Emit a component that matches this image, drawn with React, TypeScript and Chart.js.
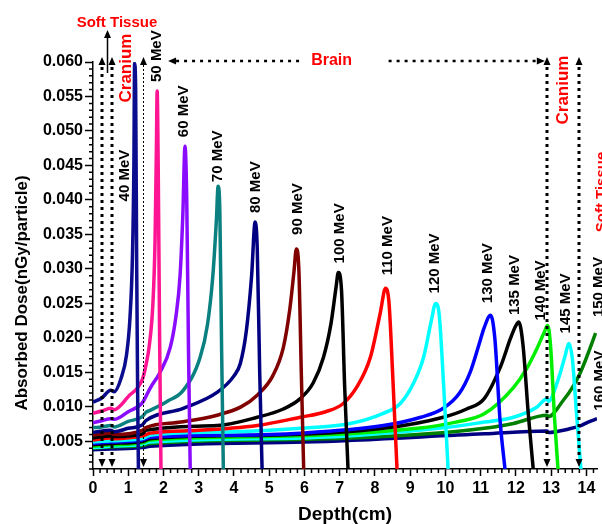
import React, { useEffect, useRef } from "react";
import { Chart, registerables } from "chart.js";

Chart.register(...registerables);

// ---- data (depth in cm, dose in nGy/particle) ----
const energyLabels = ["40 MeV", "50 MeV", "60 MeV", "70 MeV", "80 MeV", "90 MeV", "100 MeV", "110 MeV", "120 MeV", "130 MeV", "135 MeV", "140 MeV", "145 MeV", "150 MeV", "160 MeV"];

const depth40 = [0, 0.25, 0.5, 0.6, 0.8, 0.95, 1.05, 1.12, 1.16, 1.18, 1.21, 1.24, 1.27, 1.29];
const dose40 = [0.0107, 0.0113, 0.0124, 0.0122, 0.0142, 0.0175, 0.0230, 0.0320, 0.0450, 0.0598, 0.0560, 0.0300, 0.0100, 0.0005];

const depth50 = [0, 0.25, 0.5, 0.6, 1.0, 1.4, 1.5, 1.6, 1.7, 1.76, 1.8, 1.82, 1.85, 1.89, 1.93];
const dose50 = [0.0091, 0.0094, 0.0098, 0.0096, 0.0115, 0.0140, 0.0160, 0.0190, 0.0250, 0.0340, 0.0480, 0.0558, 0.0450, 0.0200, 0.0005];

const depth60 = [0, 0.25, 0.5, 0.6, 1.0, 1.4, 1.5, 1.62, 1.9, 2.19, 2.35, 2.47, 2.55, 2.61, 2.66, 2.71, 2.76];
const dose60 = [0.0077, 0.0080, 0.0083, 0.0082, 0.0093, 0.0106, 0.0115, 0.0127, 0.0150, 0.0186, 0.0230, 0.0290, 0.0380, 0.0478, 0.0400, 0.0180, 0.0005];

const depth70 = [0, 0.25, 0.5, 0.6, 1.0, 1.4, 1.5, 1.62, 2.1, 2.56, 3.04, 3.25, 3.4, 3.5, 3.55, 3.6, 3.65, 3.7];
const dose70 = [0.0070, 0.0071, 0.0073, 0.0071, 0.0079, 0.0086, 0.0092, 0.0095, 0.0108, 0.0124, 0.0172, 0.0220, 0.0290, 0.0370, 0.0420, 0.0380, 0.0180, 0.0005];

const depth80 = [0, 0.5, 0.6, 1.0, 1.4, 1.5, 2.56, 3.52, 4.0, 4.18, 4.35, 4.5, 4.6, 4.66, 4.73, 4.8];
const dose80 = [0.0063, 0.0066, 0.0064, 0.0069, 0.0074, 0.0080, 0.0098, 0.0121, 0.0145, 0.0163, 0.0210, 0.0290, 0.0368, 0.0330, 0.0150, 0.0005];

const depth90 = [0, 0.5, 0.6, 1.4, 1.5, 2.5, 3.52, 4.2, 4.66, 5.1, 5.4, 5.58, 5.7, 5.77, 5.84, 5.91, 5.98];
const dose90 = [0.0059, 0.0062, 0.0060, 0.0066, 0.0070, 0.0078, 0.0088, 0.0100, 0.0117, 0.0145, 0.0186, 0.0240, 0.0295, 0.0329, 0.0300, 0.0150, 0.0005];

const depth100 = [0, 0.5, 0.6, 1.4, 1.5, 3.52, 4.66, 5.4, 5.88, 6.25, 6.54, 6.75, 6.9, 6.96, 7.05, 7.14, 7.24];
const dose100 = [0.0055, 0.0058, 0.0057, 0.0061, 0.0066, 0.0073, 0.0085, 0.0097, 0.0112, 0.0135, 0.0172, 0.0220, 0.0275, 0.0295, 0.0270, 0.0130, 0.0005];

const depth110 = [0, 0.5, 0.6, 1.4, 1.62, 3.0, 4.66, 5.88, 6.6, 7.1, 7.5, 7.87, 8.15, 8.3, 8.4, 8.5, 8.63];
const dose110 = [0.0052, 0.0055, 0.0054, 0.0058, 0.0062, 0.0066, 0.0073, 0.0085, 0.0093, 0.0105, 0.0130, 0.0172, 0.0236, 0.0272, 0.0250, 0.0150, 0.0005];

const depth120 = [0, 0.5, 1.4, 1.62, 4.0, 5.88, 7.3, 8.2, 8.72, 9.1, 9.38, 9.6, 9.72, 9.82, 9.95, 10.08];
const dose120 = [0.0049, 0.0051, 0.0054, 0.0059, 0.0064, 0.0069, 0.0076, 0.0090, 0.0105, 0.0135, 0.0172, 0.0225, 0.0250, 0.0235, 0.0130, 0.0005];

const depth130 = [0, 0.5, 1.4, 1.62, 4.0, 5.88, 8.24, 9.3, 9.94, 10.4, 10.7, 10.95, 11.1, 11.28, 11.4, 11.55, 11.7];
const dose130 = [0.0047, 0.0049, 0.0052, 0.0056, 0.0059, 0.0062, 0.0073, 0.0085, 0.0098, 0.0120, 0.0150, 0.0190, 0.0215, 0.0233, 0.0200, 0.0080, 0.0005];

const depth135 = [0, 0.5, 1.4, 1.62, 5.0, 8.24, 9.94, 10.6, 11.1, 11.56, 11.85, 12.0, 12.08, 12.2, 12.35, 12.5];
const dose135 = [0.0045, 0.0047, 0.0050, 0.0054, 0.0059, 0.0069, 0.0085, 0.0097, 0.0112, 0.0158, 0.0200, 0.0218, 0.0223, 0.0190, 0.0090, 0.0005];

const depth140 = [0, 0.5, 1.4, 1.62, 5.0, 9.2, 10.3, 11.1, 11.93, 12.3, 12.6, 12.8, 12.9, 12.98, 13.1, 13.2];
const dose140 = [0.0043, 0.0045, 0.0048, 0.0052, 0.0057, 0.0069, 0.0078, 0.0090, 0.0128, 0.0155, 0.0185, 0.0208, 0.0218, 0.0190, 0.0080, 0.0005];

const depth145 = [0, 0.5, 1.4, 1.62, 6.0, 10.0, 11.1, 11.93, 12.6, 12.88, 12.92, 13.2, 13.4, 13.5, 13.6, 13.72, 13.85];
const dose145 = [0.0041, 0.0043, 0.0046, 0.0049, 0.0055, 0.0070, 0.0078, 0.0085, 0.0100, 0.0112, 0.0108, 0.0140, 0.0175, 0.0192, 0.0170, 0.0090, 0.0005];

const depth150 = [0, 0.5, 1.4, 1.62, 6.0, 10.0, 11.1, 11.93, 12.88, 12.92, 13.35, 13.6, 13.83, 14.05, 14.26];
const dose150 = [0.0040, 0.0042, 0.0044, 0.0047, 0.0053, 0.0063, 0.0069, 0.0076, 0.0088, 0.0086, 0.0110, 0.0128, 0.0150, 0.0178, 0.0207];

const depth160 = [0, 0.5, 1.4, 1.62, 6.0, 11.1, 12.88, 12.92, 13.5, 13.8, 14.05, 14.3];
const dose160 = [0.0038, 0.0039, 0.0041, 0.0043, 0.0049, 0.0061, 0.0065, 0.0063, 0.0068, 0.0072, 0.0078, 0.0083];

const curveDepths = [depth40, depth50, depth60, depth70, depth80, depth90, depth100, depth110, depth120, depth130, depth135, depth140, depth145, depth150, depth160];
const curveDoses = [dose40, dose50, dose60, dose70, dose80, dose90, dose100, dose110, dose120, dose130, dose135, dose140, dose145, dose150, dose160];

const curveColors = ["#0c0c8e", "#ff1493", "#8a0cff", "#0a8080", "#000080", "#800000", "#000000", "#ff0000", "#00ffff", "#0000ff", "#000000", "#00ee00", "#00ffff", "#008000", "#000080"];

// label offsets in px relative to each curve's peak: [dx, gap above peak]
const labelOffsets = [[-10, -138], [0, 9], [-1, 9], [0, 4], [1, 9], [1, 14], [2, 9], [2, 13], [-1, 10], [-3, 12], [-4, 7], [-7, 5], [-3, 10], [3, 16], [3, 8]];

const xTickValues = [0, 1, 2, 3, 4, 5, 6, 7, 8, 9, 10, 11, 12, 13, 14];
const yTickValues = [0.005, 0.01, 0.015, 0.02, 0.025, 0.03, 0.035, 0.04, 0.045, 0.05, 0.055, 0.06];

// tissue boundaries (cm)
const thickBoundaries = [0.25, 0.53, 12.89, 13.79];
const thinBoundary = 1.41;

const FONT = '"Liberation Sans", Arial, sans-serif';

const annotPlugin = {
  id: "annot",
  afterDraw(chart: any) {
    const { ctx, chartArea: ca } = chart;
    const x = chart.scales.x;
    const y = chart.scales.y;
    ctx.save();

    // minor ticks
    ctx.strokeStyle = "#000";
    ctx.lineWidth = 1.5;
    ctx.beginPath();
    for (let i = 1; i < 60; i++) {
      if (i % 5 === 0) continue;
      const v = i / 1000;
      if (v < y.min) continue;
      const py = y.getPixelForValue(v);
      ctx.moveTo(ca.left - 4, py);
      ctx.lineTo(ca.left, py);
    }
    for (let i = 1; i <= 72; i++) {
      if (i % 5 === 0) continue;
      const v = i / 5;
      if (v > x.max) break;
      const px = x.getPixelForValue(v);
      ctx.moveTo(px, ca.bottom);
      ctx.lineTo(px, ca.bottom + 4);
    }
    ctx.stroke();

    const arrowUp = (px: number, tip: number) => {
      ctx.beginPath();
      ctx.moveTo(px, tip);
      ctx.lineTo(px - 3.5, tip + 8);
      ctx.lineTo(px + 3.5, tip + 8);
      ctx.closePath();
      ctx.fill();
    };
    const arrowDown = (px: number, tip: number) => {
      ctx.beginPath();
      ctx.moveTo(px, tip);
      ctx.lineTo(px - 3.5, tip - 8);
      ctx.lineTo(px + 3.5, tip - 8);
      ctx.closePath();
      ctx.fill();
    };
    const arrowLeft = (tipX: number, py: number) => {
      ctx.beginPath();
      ctx.moveTo(tipX, py);
      ctx.lineTo(tipX + 8, py - 3.5);
      ctx.lineTo(tipX + 8, py + 3.5);
      ctx.closePath();
      ctx.fill();
    };
    const arrowRight = (tipX: number, py: number) => {
      ctx.beginPath();
      ctx.moveTo(tipX, py);
      ctx.lineTo(tipX - 8, py - 3.5);
      ctx.lineTo(tipX - 8, py + 3.5);
      ctx.closePath();
      ctx.fill();
    };

    ctx.fillStyle = "#000";
    // thick dotted boundaries
    for (const d of thickBoundaries) {
      const px = Math.round(x.getPixelForValue(d));
      ctx.setLineDash([3, 4]);
      ctx.lineWidth = 3;
      ctx.beginPath();
      ctx.moveTo(px, ca.top + 5);
      ctx.lineTo(px, ca.bottom - 8);
      ctx.stroke();
      ctx.setLineDash([]);
      arrowUp(px, ca.top - 5);
      arrowDown(px, ca.bottom - 2);
    }
    // thin dashed boundary
    {
      const px = Math.round(x.getPixelForValue(thinBoundary)) + 0.5;
      ctx.setLineDash([2, 2]);
      ctx.lineWidth = 1;
      ctx.beginPath();
      ctx.moveTo(px, ca.top + 3);
      ctx.lineTo(px, ca.bottom - 6);
      ctx.stroke();
      ctx.setLineDash([]);
      arrowUp(px, ca.top - 5);
      arrowDown(px, ca.bottom - 2);
    }

    // soft tissue arrow (solid)
    {
      const px = Math.round(x.getPixelForValue(0.4)) + 0.5;
      ctx.lineWidth = 1.5;
      ctx.beginPath();
      ctx.moveTo(px, ca.top + 11);
      ctx.lineTo(px, ca.top - 26);
      ctx.stroke();
      arrowUp(px, ca.top - 32);
    }

    // Brain arrow
    const brainX = x.getPixelForValue(6.77);
    const brainY = ca.top - 1;
    {
      const leftTip = x.getPixelForValue(2.13);
      const rightTip = x.getPixelForValue(12.82);
      ctx.setLineDash([3, 5]);
      ctx.lineWidth = 2.5;
      ctx.beginPath();
      ctx.moveTo(leftTip + 8, brainY);
      ctx.lineTo(brainX - 30, brainY);
      ctx.moveTo(brainX + 57, brainY);
      ctx.lineTo(rightTip - 8, brainY);
      ctx.stroke();
      ctx.setLineDash([]);
      arrowLeft(leftTip, brainY);
      arrowRight(rightTip, brainY);
    }

    // red texts
    ctx.fillStyle = "#ff0000";
    ctx.textAlign = "center";
    ctx.textBaseline = "middle";
    ctx.font = `bold 15px ${FONT}`;
    ctx.fillText("Soft Tissue", x.getPixelForValue(0.68), ca.top - 39);
    ctx.font = `bold 16px ${FONT}`;
    ctx.fillText("Brain", brainX, brainY);
    const rotText = (t: string, cx: number, cy: number, font: string) => {
      ctx.save();
      ctx.translate(cx, cy);
      ctx.rotate(-Math.PI / 2);
      ctx.font = font;
      ctx.textAlign = "center";
      ctx.textBaseline = "middle";
      ctx.fillText(t, 0, 0);
      ctx.restore();
    };
    rotText("Cranium", x.getPixelForValue(0.94), ca.top + 6, `bold 17px ${FONT}`);
    rotText("Cranium", x.getPixelForValue(13.35), ca.top + 28, `bold 17px ${FONT}`);
    rotText("Soft Tissue", x.getPixelForValue(14.43), ca.top + 130, `bold 15px ${FONT}`);

    // curve labels
    ctx.fillStyle = "#000";
    chart.data.datasets.forEach((ds: any, i: number) => {
      let best = 0;
      ds.data.forEach((p: any, j: number) => {
        if (p.y > ds.data[best].y) best = j;
      });
      const pk = ds.data[best];
      const px = x.getPixelForValue(pk.x) + labelOffsets[i][0];
      const py = y.getPixelForValue(pk.y) - labelOffsets[i][1];
      ctx.save();
      ctx.translate(px, py);
      ctx.rotate(-Math.PI / 2);
      ctx.font = `bold 15px ${FONT}`;
      ctx.textAlign = "left";
      ctx.textBaseline = "middle";
      ctx.fillText(ds.label, 0, 0);
      ctx.restore();
    });

    // axis titles
    ctx.fillStyle = "#000";
    ctx.font = `bold 19px ${FONT}`;
    ctx.textAlign = "center";
    ctx.textBaseline = "middle";
    ctx.fillText("Depth(cm)", (ca.left + ca.right) / 2, 515);
    ctx.save();
    ctx.translate(22, 293);
    ctx.rotate(-Math.PI / 2);
    ctx.font = `bold 17px ${FONT}`;
    ctx.fillText("Absorbed Dose(nGy/particle)", 0, 0);
    ctx.restore();

    ctx.restore();
  },
};

export default function App() {
  const ref = useRef<HTMLCanvasElement | null>(null);
  useEffect(() => {
    if (!ref.current) return;
    const datasets = energyLabels.map((label, i) => ({
      label,
      data: curveDepths[i].map((d, j) => ({ x: d, y: curveDoses[i][j] })),
      borderColor: curveColors[i],
      backgroundColor: curveColors[i],
      borderWidth: 3.5,
      pointRadius: 0,
      cubicInterpolationMode: "monotone" as const,
      fill: false,
    }));
    const chart = new Chart(ref.current, {
      type: "line",
      data: { datasets },
      options: {
        animation: false,
        responsive: false,
        devicePixelRatio: 1,
        layout: { padding: { top: 62, right: 5, left: 0, bottom: 0 } },
        plugins: { legend: { display: false }, tooltip: { enabled: false }, title: { display: false } },
        scales: {
          x: {
            type: "linear",
            min: 0,
            max: 14.3,
            afterBuildTicks: (s: any) => {
              s.ticks = xTickValues.map((v) => ({ value: v }));
            },
            afterFit: (s: any) => {
              s.height = 55;
            },
            border: { display: true, color: "#000", width: 1.5 },
            grid: { display: true, drawOnChartArea: false, drawTicks: true, tickLength: 7, tickColor: "#000", tickWidth: 1.5 },
            ticks: { color: "#000", font: { family: FONT, size: 16, weight: "bold" }, padding: 3, maxRotation: 0, autoSkip: false, callback: (v: any) => String(v) },
          },
          y: {
            type: "linear",
            min: 0.001,
            max: 0.06,
            afterBuildTicks: (s: any) => {
              s.ticks = yTickValues.map((v) => ({ value: v }));
            },
            afterFit: (s: any) => {
              s.width = 93;
            },
            border: { display: true, color: "#000", width: 1.5 },
            grid: { display: true, drawOnChartArea: false, drawTicks: true, tickLength: 8, tickColor: "#000", tickWidth: 1.5 },
            ticks: { color: "#000", font: { family: FONT, size: 16, weight: "bold" }, padding: 2, autoSkip: false, callback: (v: any) => Number(v).toFixed(3) },
          },
        },
      },
      plugins: [annotPlugin],
    });
    return () => chart.destroy();
  }, []);
  return (
    <div style={{ position: "fixed", left: 0, top: 0, width: 602, height: 524, overflow: "hidden", background: "#fff" }}>
      <canvas ref={ref} width={602} height={524} style={{ width: 602, height: 524, display: "block" }} />
    </div>
  );
}
